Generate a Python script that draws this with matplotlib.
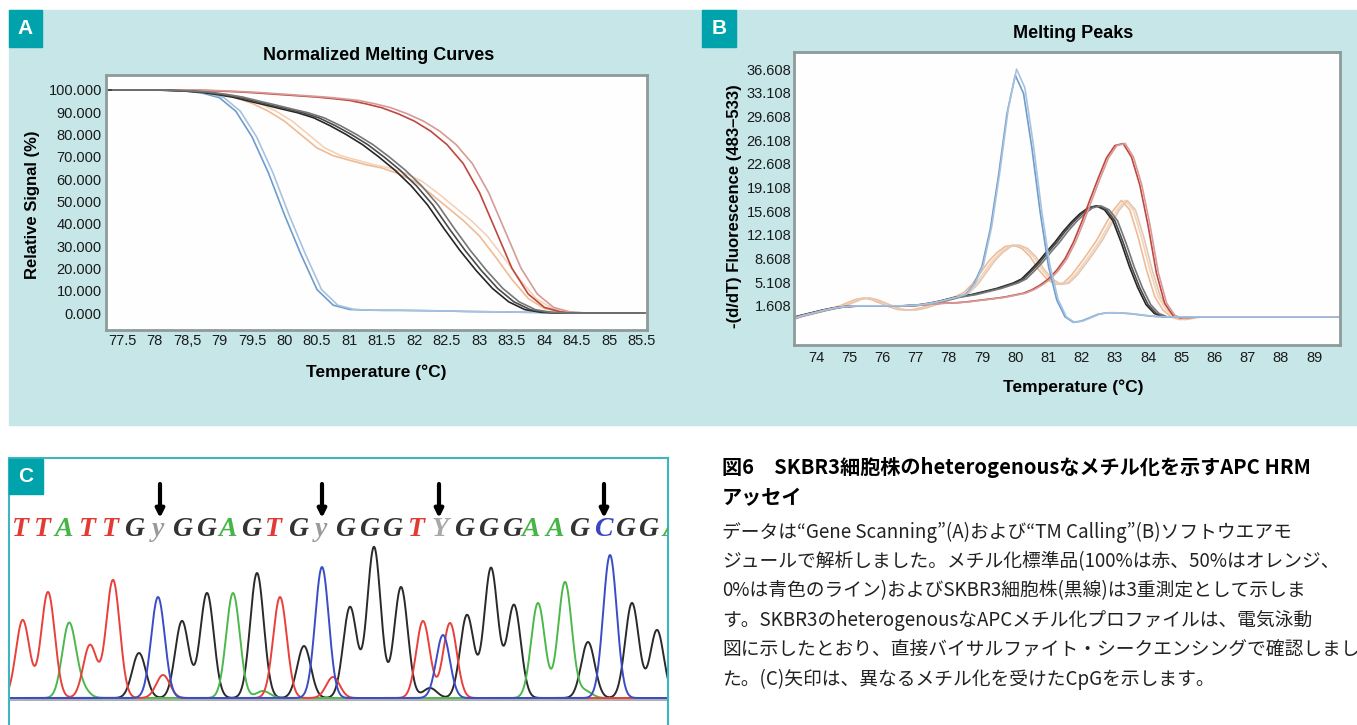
import numpy as np
import matplotlib
matplotlib.use("Agg")
import matplotlib.pyplot as plt
from matplotlib.patches import Rectangle

# ---------------- data ----------------
# A: normalized melting curves, read every 0.25 degC from 77.25 to 85.5
tA = np.arange(77.25, 85.51, 0.25)
blueA = [100, 100, 100, 100, 99.8, 99.5, 98.5, 96.5, 90.5, 79, 63, 44, 26.5, 10.5, 3.5, 1.6, 1.3,
         1.2, 1.2, 1.1, 1.0, 0.9, 0.7, 0.6, 0.5, 0.4, 0.3, 0.2, 0.1, 0, 0, 0, 0, 0]
blackA = [100, 100, 100, 100, 99.8, 99.5, 99, 98, 96.8, 95, 93.3, 91.5, 89.8, 87.5, 84, 80, 75.5,
          70, 64, 57, 48.5, 38, 28, 19, 11, 5, 1.5, 0.3, 0, 0, 0, 0, 0, 0]
redA = [100, 100, 100, 100, 100, 100, 99.8, 99.5, 99.2, 98.8, 98.3, 97.8, 97.3, 96.8, 96.1, 95.3,
        93.8, 92, 89.3, 86, 81.5, 75.5, 67, 54, 37, 20, 8.5, 2.5, 0.5, 0, 0, 0, 0, 0]
orangeA = [100, 100, 100, 100, 99.8, 99.5, 99, 98, 96.5, 94, 90.5, 86, 80, 74, 70.5, 68.5, 66.5,
           65, 62.5, 59, 53.5, 47.5, 41.5, 34.5, 25, 15, 6.5, 2, 0.5, 0, 0, 0, 0, 0]

# B: melting peaks, read every 0.25 degC from 73.25 to 86, then 89.75
tB = np.r_[np.arange(73.25, 86.01, 0.25), 89.75]
blueB = [-0.3, 0.1, 0.4, 0.7, 1.0, 1.25, 1.45, 1.55, 1.6, 1.6, 1.6, 1.6, 1.6, 1.6, 1.65, 1.7, 1.85,
         2.05, 2.3, 2.6, 2.9,
         3.3, 4.8, 7.5, 13, 21, 30, 35.7, 33, 25, 15.5, 7.5, 2.5, 0, -0.8, -0.6, -0.1, 0.4, 0.6,
         0.6, 0.55, 0.45, 0.3, 0.15, 0.05, 0, 0, 0, 0, 0, 0, 0, 0]
blackB = [-0.3, 0.1, 0.4, 0.7, 1.0, 1.25, 1.45, 1.55, 1.6, 1.6, 1.6, 1.6, 1.6, 1.6, 1.65, 1.7, 1.85,
          2.05, 2.3, 2.6, 2.9,
          3.1, 3.3, 3.6, 3.9, 4.2, 4.6, 5.0, 5.6, 6.8, 8.1, 9.6, 11.0, 12.6, 14.0, 15.2, 16.1, 16.4,
          15.8, 14.2, 11.0, 7.4, 4.3, 1.8, 0.5, 0, 0, 0, 0, 0, 0, 0, 0]
redB = [-0.3, 0.1, 0.4, 0.7, 1.0, 1.25, 1.45, 1.55, 1.6, 1.6, 1.6, 1.6, 1.6, 1.6, 1.65, 1.7, 1.8,
        1.9, 2.0, 2.05, 2.1,
        2.2, 2.35, 2.5, 2.65, 2.8, 3.0, 3.25, 3.5, 4.0, 4.7, 5.6, 6.9, 8.6, 11.0, 14.0, 17.3, 20.5,
        23.5, 25.3, 25.6, 23.6, 19.5, 13.5, 6.5, 2.0, 0.2, -0.2, -0.1, 0, 0, 0, 0]
orangeB = [-0.3, 0.1, 0.4, 0.7, 1.0, 1.25, 1.6, 2.1, 2.6, 2.8, 2.5, 2.0, 1.5, 1.1, 1.0, 1.1, 1.4,
           1.8, 2.2, 2.6, 3.0,
           3.6, 4.8, 6.5, 8.2, 9.5, 10.4, 10.6, 10.1, 8.9, 7.0, 5.6, 4.8, 5.0, 6.2, 7.8, 9.5, 11.3,
           13.5, 15.7, 17.2, 15.8, 11.8, 7.0, 3.0, 1.0, 0.0, -0.4, -0.2, 0, 0, 0, 0]

# replicate offsets (degC) for the triplicate / duplicate runs
blue_rep = [0.0, 0.07]
black_rep = [-0.05, 0.03, 0.11]
red_rep = [0.0, 0.14]
orange_rep = [0.0, 0.12]

xticksA = [77.5, 78, 78.5, 79, 79.5, 80, 80.5, 81, 81.5, 82, 82.5, 83, 83.5, 84, 84.5, 85, 85.5]
xlabelsA = ["77.5", "78", "78,5", "79", "79.5", "80", "80.5", "81", "81.5", "82", "82.5", "83",
            "83.5", "84", "84.5", "85", "85.5"]
yticksA = [0, 10, 20, 30, 40, 50, 60, 70, 80, 90, 100]
xticksB = list(range(74, 90))
yticksB = [1.608, 5.108, 8.608, 12.108, 15.608, 19.108, 22.608, 26.108, 29.608, 33.108, 36.608]

# C: sequencing trace, peaks as (scan position, height)
red_peaks = [(22.7, 78), (48, 106), (90, 53), (113, 118), (163, 23), (280, 101), (333, 21),
             (423, 77), (450, 75)]
green_peaks = [(69, 74), (82, 9), (233, 105), (263, 7), (538, 95), (565, 116), (585, 7)]
blue_peaks = [(158, 101), (322, 131), (443, 63), (610, 143)]
black_peaks = [(139, 45), (182, 77), (207, 105), (257, 125), (304, 52), (350, 91), (374, 151),
               (401, 111), (430, 10), (467, 83), (491, 130), (514, 93), (588, 56), (632, 95),
               (657, 68)]
seq = "TTATTGyGGAGTGyGGGTYGGGAAGCGGA"
seq_x = [20, 42, 64, 87, 110, 134, 158, 182, 206, 228, 251, 273, 298, 321, 345, 369, 392, 416,
         440, 464, 488, 512, 531, 555, 579, 603, 625, 648, 672]
arrow_x = [160, 322, 439, 604]

title_jp = ["図6　SKBR3細胞株のheterogenousなメチル化を示すAPC HRM", "アッセイ"]
body_jp = [
    "データは“Gene Scanning”(A)および“TM Calling”(B)ソフトウエアモ",
    "ジュールで解析しました。メチル化標準品(100%は赤、50%はオレンジ、",
    "0%は青色のライン)およびSKBR3細胞株(黒線)は3重測定として示しま",
    "す。SKBR3のheterogenousなAPCメチル化プロファイルは、電気泳動",
    "図に示したとおり、直接バイサルファイト・シークエンシングで確認しまし",
    "た。(C)矢印は、異なるメチル化を受けたCpGを示します。",
]

# ---------------- drawing ----------------
W, H = 1357, 725
SANS = "Liberation Sans"
JP = ["Noto Sans CJK JP", "DejaVu Sans"]
TEAL_BG = "#c6e6e8"
TEAL = "#00a2ac"


def fx(px):
    return px / W


def fy(py):
    return 1 - py / H


fig = plt.figure(figsize=(W / 100, H / 100), dpi=100)
fig.patch.set_facecolor("white")
fig.add_artist(Rectangle((fx(9), fy(425)), fx(1357) - fx(9), fy(10) - fy(425),
                         transform=fig.transFigure, color=TEAL_BG, zorder=0))


def panel_label(x0, y0, x1, y1, txt):
    fig.add_artist(Rectangle((fx(x0), fy(y1)), fx(x1) - fx(x0), fy(y0) - fy(y1),
                             transform=fig.transFigure, color=TEAL, zorder=5))
    fig.text(fx((x0 + x1) / 2), fy((y0 + y1) / 2), txt, color="white", fontsize=15,
             fontweight="bold", family=SANS, ha="center", va="center", zorder=6)


def style_frame(ax):
    ax.set_facecolor("#fefefe")
    for s in ax.spines.values():
        s.set_color("#8d9b9b")
        s.set_linewidth(2)
    ax.tick_params(length=0, labelsize=10.5, colors="#1a1a1a")
    for lab in ax.get_xticklabels() + ax.get_yticklabels():
        lab.set_family(SANS)


# ---- panel A ----
axA = fig.add_axes([fx(106), fy(330), (647 - 106) / W, (330 - 75) / H])
for s, c in zip(orange_rep, ["#efbb95", "#f4d2b8"]):
    axA.plot(tA + s, orangeA, color=c, lw=1.2)
for s, c in zip(blue_rep, ["#6e9ccc", "#a8c2de"]):
    axA.plot(tA + s, blueA, color=c, lw=1.2)
for s, c in zip(red_rep, ["#c0463e", "#d69a98"]):
    axA.plot(tA + s, redA, color=c, lw=1.2)
for s, c in zip(black_rep, ["#262626", "#4a4a4a", "#767676"]):
    axA.plot(tA + s, blackA, color=c, lw=1.2)
axA.set_xlim(77.254, 85.577)
axA.set_ylim(-7.62, 106.7)
axA.set_xticks(xticksA, xlabelsA)
axA.set_yticks(yticksA, ["%.3f" % v for v in yticksA])
style_frame(axA)
axA.tick_params(axis="x", pad=3)
axA.tick_params(axis="y", pad=3)
fig.text(fx(379), fy(55), "Normalized Melting Curves", fontsize=13, fontweight="bold",
         family=SANS, ha="center", va="center")
fig.text(fx(376), fy(372), "Temperature (°C)", fontsize=12.5, fontweight="bold",
         family=SANS, ha="center", va="center")
fig.text(fx(33), fy(205), "Relative Signal (%)", fontsize=12, fontweight="bold",
         family=SANS, ha="center", va="center", rotation=90)
panel_label(9, 10, 42, 47, "A")

# ---- panel B ----
axB = fig.add_axes([fx(794), fy(345), (1340 - 794) / W, (345 - 52) / H])
for s, c in zip([-0.05, 0.05, 0.12], ["#efbb95", "#f4d2b8", "#e2c8b4"]):
    axB.plot(tB + s, orangeB, color=c, lw=1.2)
for s, c in zip([-0.06, 0.0, 0.08], ["#262626", "#4a4a4a", "#767676"]):
    axB.plot(tB + s, blackB, color=c, lw=1.2)
for s, c in zip([0.0, 0.06], ["#c0463e", "#d69a98"]):
    axB.plot(tB + s, redB, color=c, lw=1.2)
for s, k, c in zip([0.0, 0.04], [1.0, 1.025], ["#6e9ccc", "#a8c2de"]):
    axB.plot(tB + s, np.array(blueB) * k, color=c, lw=1.2)
axB.set_xlim(73.337, 89.78)
axB.set_ylim(-4.152, 39.12)
axB.set_xticks(xticksB, [str(v) for v in xticksB])
axB.set_yticks(yticksB, ["%.3f" % v for v in yticksB])
style_frame(axB)
axB.tick_params(axis="x", pad=4)
axB.tick_params(axis="y", pad=2)
fig.text(fx(1073), fy(33), "Melting Peaks", fontsize=13, fontweight="bold",
         family=SANS, ha="center", va="center")
fig.text(fx(1073), fy(387), "Temperature (°C)", fontsize=12.5, fontweight="bold",
         family=SANS, ha="center", va="center")
fig.text(fx(734), fy(206), "-(d/dT) Fluorescence (483–533)", fontsize=12, fontweight="bold",
         family=SANS, ha="center", va="center", rotation=90)
panel_label(702, 10, 736, 47, "B")

# ---- panel C ----
axC = fig.add_axes([fx(9), 0, (668 - 9) / W, (725 - 458) / H])
axC.set_xlim(9, 668)
axC.set_ylim(-27, 240)
axC.set_xticks([])
axC.set_yticks([])
for side in ["left", "top", "right"]:
    axC.spines[side].set_color("#3fb5bd")
    axC.spines[side].set_linewidth(1.5)
axC.spines["bottom"].set_visible(False)

xs = np.linspace(9, 668, 1600)
axC.axhline(-2, color="#a0a0a0", lw=1.2)
for peaks, col in [(black_peaks, "#2a2a2a"), (green_peaks, "#4cb84c"),
                   (red_peaks, "#e8403a"), (blue_peaks, "#3a4cc8")]:
    trace = np.zeros_like(xs)
    for p, h in peaks:
        trace += h * np.exp(-(xs - p) ** 2 / (2 * 6.8 ** 2))
    axC.plot(xs, trace, color=col, lw=1.4)

base_colors = {"T": "#e23b35", "A": "#46b446", "G": "#333333", "C": "#3a46c0",
               "y": "#9a9a9a", "Y": "#a8a8a8"}
for x, ch in zip(seq_x, seq):
    axC.text(x, 168, ch, color=base_colors[ch], fontsize=20, fontweight="bold",
             fontstyle="italic", family="Liberation Serif", ha="center", va="center",
             clip_on=True)
for x in arrow_x:
    axC.annotate("", xy=(x, 180), xytext=(x, 214),
                 arrowprops=dict(arrowstyle="-|>", color="black", lw=3, mutation_scale=12,
                                 shrinkA=0, shrinkB=0))
panel_label(9, 459, 43, 494, "C")

# ---- caption ----
for i, line in enumerate(title_jp):
    fig.text(fx(722), fy(467 + 31 * i), line, fontsize=14.5, fontweight="bold",
             family=JP, ha="left", va="center")
for i, line in enumerate(body_jp):
    fig.text(fx(722), fy(532 + 29.5 * i), line, fontsize=13.5, family=JP,
             ha="left", va="center", color="#222222")

fig.savefig("out.png", dpi=100)
